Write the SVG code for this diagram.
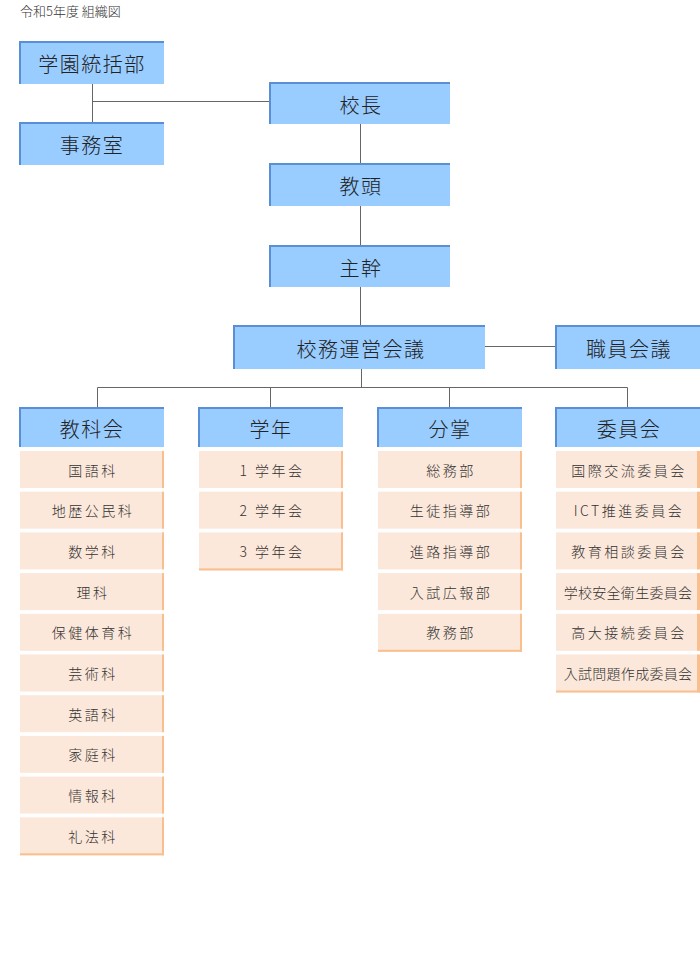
<svg xmlns="http://www.w3.org/2000/svg" width="700" height="969" viewBox="0 0 700 969">
<style>
.hb{fill:#99ccff}
.hl{fill:#5a8fd8}
.pb{fill:#fce8da}
.pl{fill:#f9bf8f}
.ht{font-family:"Noto Sans CJK JP","Noto Sans",sans-serif;font-size:20px;font-weight:300;fill:#222;letter-spacing:1.5px;text-anchor:middle;dominant-baseline:central}
.pt{font-family:"Noto Sans CJK JP","Noto Sans",sans-serif;font-size:14px;font-weight:300;fill:#333;letter-spacing:2.5px;text-anchor:middle;dominant-baseline:central}
.pt2{font-family:"Noto Sans CJK JP","Noto Sans",sans-serif;font-size:14px;font-weight:300;fill:#333;letter-spacing:0.3px;text-anchor:middle;dominant-baseline:central}
.ln{stroke:#666;stroke-width:1;fill:none}
</style>
<rect width="700" height="969" fill="#fff"/>
<text x="20" y="16" font-family="'Noto Sans CJK JP','Noto Sans',sans-serif" font-size="13" font-weight="300" fill="#333">令和5年度 組織図</text>
<g id="connectors">
<path class="ln" d="M92.5 84V122M92.5 101.5H270M360.5 124V163M360.5 206V245M360.5 287V326M361.5 369V387.5M485 346.5H555M97.5 387.5H627.5M97.5 387.5V407M270.5 387.5V407M449.5 387.5V407M627.5 387.5V407"/>
</g>
<g id="gakuen"><rect class="hb" x="19" y="41" width="145" height="43"/><rect class="hl" x="19" y="41" width="145" height="2"/><rect class="hl" x="19" y="41" width="2" height="43"/><text class="ht" x="92" y="63">学園統括部</text></g>
<g id="jimushitsu"><rect class="hb" x="19" y="122" width="145" height="43"/><rect class="hl" x="19" y="122" width="145" height="2"/><rect class="hl" x="19" y="122" width="2" height="43"/><text class="ht" x="92" y="144">事務室</text></g>
<g id="kocho"><rect class="hb" x="269" y="82" width="181" height="42"/><rect class="hl" x="269" y="82" width="181" height="2"/><rect class="hl" x="269" y="82" width="2" height="42"/><text class="ht" x="361" y="104">校長</text></g>
<g id="kyoto"><rect class="hb" x="269" y="163" width="181" height="43"/><rect class="hl" x="269" y="163" width="181" height="2"/><rect class="hl" x="269" y="163" width="2" height="43"/><text class="ht" x="361" y="185">教頭</text></g>
<g id="shukan"><rect class="hb" x="269" y="245" width="181" height="42"/><rect class="hl" x="269" y="245" width="181" height="2"/><rect class="hl" x="269" y="245" width="2" height="42"/><text class="ht" x="361" y="267">主幹</text></g>
<g id="unei"><rect class="hb" x="233" y="325" width="252" height="44"/><rect class="hl" x="233" y="325" width="252" height="2"/><rect class="hl" x="233" y="325" width="2" height="44"/><text class="ht" x="361" y="348">校務運営会議</text></g>
<g id="shokuin"><rect class="hb" x="555" y="325" width="145" height="44"/><rect class="hl" x="555" y="325" width="145" height="2"/><rect class="hl" x="555" y="325" width="2" height="44"/><text class="ht" x="629" y="348">職員会議</text></g>
<g id="kyokakai"><rect class="hb" x="19" y="407" width="145" height="40"/><rect class="hl" x="19" y="407" width="145" height="2"/><rect class="hl" x="19" y="407" width="2" height="40"/><text class="ht" x="92" y="428">教科会</text></g>
<g id="gakunen"><rect class="hb" x="198" y="407" width="145" height="40"/><rect class="hl" x="198" y="407" width="145" height="2"/><rect class="hl" x="198" y="407" width="2" height="40"/><text class="ht" x="271" y="428">学年</text></g>
<g id="bunsho"><rect class="hb" x="377" y="407" width="145" height="40"/><rect class="hl" x="377" y="407" width="145" height="2"/><rect class="hl" x="377" y="407" width="2" height="40"/><text class="ht" x="450" y="428">分掌</text></g>
<g id="iinkai"><rect class="hb" x="555" y="407" width="145" height="40"/><rect class="hl" x="555" y="407" width="145" height="2"/><rect class="hl" x="555" y="407" width="2" height="40"/><text class="ht" x="629" y="428">委員会</text></g>

<g id="kyoka-items">
<g><rect class="pb" x="20" y="451" width="144" height="37"/><rect class="pl" x="162" y="451" width="2" height="37"/><text class="pt" x="93" y="469.5">国語科</text></g>
<g><rect class="pb" x="20" y="491.7" width="144" height="37"/><rect class="pl" x="162" y="491.7" width="2" height="37"/><text class="pt" x="93" y="510.2">地歴公民科</text></g>
<g><rect class="pb" x="20" y="532.4" width="144" height="37"/><rect class="pl" x="162" y="532.4" width="2" height="37"/><text class="pt" x="93" y="550.9">数学科</text></g>
<g><rect class="pb" x="20" y="573.1" width="144" height="37"/><rect class="pl" x="162" y="573.1" width="2" height="37"/><text class="pt" x="93" y="591.6">理科</text></g>
<g><rect class="pb" x="20" y="613.8" width="144" height="37"/><rect class="pl" x="162" y="613.8" width="2" height="37"/><text class="pt" x="93" y="632.3">保健体育科</text></g>
<g><rect class="pb" x="20" y="654.5" width="144" height="37"/><rect class="pl" x="162" y="654.5" width="2" height="37"/><text class="pt" x="93" y="673">芸術科</text></g>
<g><rect class="pb" x="20" y="695.2" width="144" height="37"/><rect class="pl" x="162" y="695.2" width="2" height="37"/><text class="pt" x="93" y="713.7">英語科</text></g>
<g><rect class="pb" x="20" y="735.9" width="144" height="37"/><rect class="pl" x="162" y="735.9" width="2" height="37"/><text class="pt" x="93" y="754.4">家庭科</text></g>
<g><rect class="pb" x="20" y="776.6" width="144" height="37"/><rect class="pl" x="162" y="776.6" width="2" height="37"/><text class="pt" x="93" y="795.1">情報科</text></g>
<g><rect class="pb" x="20" y="817.3" width="144" height="38"/><rect class="pl" x="162" y="817.3" width="2" height="38"/><rect class="pl" x="20" y="853.3" width="144" height="2"/><text class="pt" x="93" y="835.8">礼法科</text></g>
</g>

<g id="gakunen-items">
<g><rect class="pb" x="199" y="451" width="144" height="37"/><rect class="pl" x="341" y="451" width="2" height="37"/><text class="pt" x="272" y="469.5">1 学年会</text></g>
<g><rect class="pb" x="199" y="491.7" width="144" height="37"/><rect class="pl" x="341" y="491.7" width="2" height="37"/><text class="pt" x="272" y="510.2">2 学年会</text></g>
<g><rect class="pb" x="199" y="532.4" width="144" height="38"/><rect class="pl" x="341" y="532.4" width="2" height="38"/><rect class="pl" x="199" y="568.4" width="144" height="2"/><text class="pt" x="272" y="550.9">3 学年会</text></g>
</g>

<g id="bunsho-items">
<g><rect class="pb" x="378" y="451" width="144" height="37"/><rect class="pl" x="520" y="451" width="2" height="37"/><text class="pt" x="451" y="469.5">総務部</text></g>
<g><rect class="pb" x="378" y="491.7" width="144" height="37"/><rect class="pl" x="520" y="491.7" width="2" height="37"/><text class="pt" x="451" y="510.2">生徒指導部</text></g>
<g><rect class="pb" x="378" y="532.4" width="144" height="37"/><rect class="pl" x="520" y="532.4" width="2" height="37"/><text class="pt" x="451" y="550.9">進路指導部</text></g>
<g><rect class="pb" x="378" y="573.1" width="144" height="37"/><rect class="pl" x="520" y="573.1" width="2" height="37"/><text class="pt" x="451" y="591.6">入試広報部</text></g>
<g><rect class="pb" x="378" y="613.8" width="144" height="38"/><rect class="pl" x="520" y="613.8" width="2" height="38"/><rect class="pl" x="378" y="649.8" width="144" height="2"/><text class="pt" x="451" y="632.3">教務部</text></g>
</g>

<g id="iinkai-items">
<g><rect class="pb" x="556" y="451" width="144" height="37"/><rect class="pl" x="697" y="451" width="3" height="37"/><text class="pt" x="629" y="469.5">国際交流委員会</text></g>
<g><rect class="pb" x="556" y="491.7" width="144" height="37"/><rect class="pl" x="697" y="491.7" width="3" height="37"/><text class="pt" x="629" y="510.2">ICT推進委員会</text></g>
<g><rect class="pb" x="556" y="532.4" width="144" height="37"/><rect class="pl" x="697" y="532.4" width="3" height="37"/><text class="pt" x="629" y="550.9">教育相談委員会</text></g>
<g><rect class="pb" x="556" y="573.1" width="144" height="37"/><rect class="pl" x="697" y="573.1" width="3" height="37"/><text class="pt2" x="628" y="591.6">学校安全衛生委員会</text></g>
<g><rect class="pb" x="556" y="613.8" width="144" height="37"/><rect class="pl" x="697" y="613.8" width="3" height="37"/><text class="pt" x="629" y="632.3">高大接続委員会</text></g>
<g><rect class="pb" x="556" y="654.5" width="144" height="38"/><rect class="pl" x="697" y="654.5" width="3" height="38"/><rect class="pl" x="556" y="690.5" width="144" height="2"/><text class="pt2" x="628" y="673">入試問題作成委員会</text></g>
</g>
</svg>
